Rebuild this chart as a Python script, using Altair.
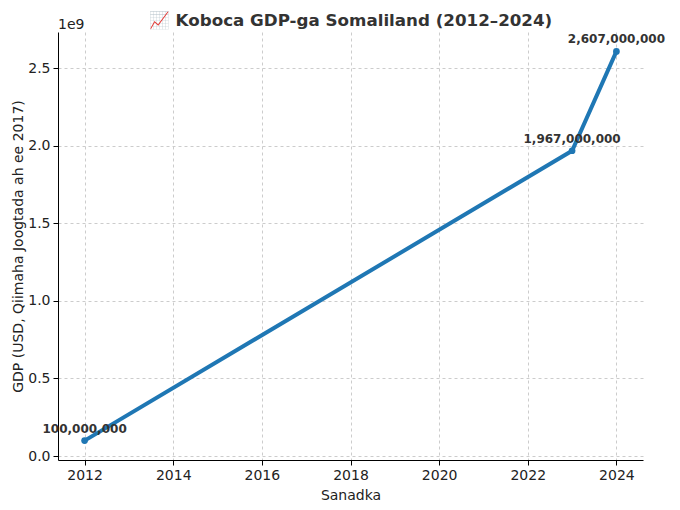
import altair as alt
import pandas as pd

years = [2012, 2023, 2024]
gdp = [100000000, 1967000000, 2607000000]
labels = ["100,000,000", "1,967,000,000", "2,607,000,000"]
x_ticks = [2012, 2014, 2016, 2018, 2020, 2022, 2024]
y_ticks = [0, 500000000, 1000000000, 1500000000, 2000000000, 2500000000]
title_text = "📈 Koboca GDP-ga Somaliland (2012–2024)"

df = pd.DataFrame({"year": years, "gdp": gdp, "label": labels})

FONT = "DejaVu Sans"
W, H = 585, 428

x = alt.X("year:Q",
          scale=alt.Scale(domain=[2011.4, 2024.6], nice=False, zero=False),
          axis=alt.Axis(values=x_ticks, format="d", title="Sanadka",
                        grid=True, gridDash=[3, 3], gridColor="#cccccc",
                        domainColor="black", tickColor="black", tickSize=5,
                        labelFontSize=14, titleFontSize=14, titleFontWeight="normal",
                        labelColor="#222222", titleColor="#222222", labelPadding=3,
                        titlePadding=6))
y = alt.Y("gdp:Q",
          scale=alt.Scale(domain=[-25000000, 2732000000], nice=False, zero=False),
          axis=alt.Axis(values=y_ticks, labelExpr="format(datum.value / 1e9, '.1f')",
                        title="GDP (USD, Qiimaha Joogtada ah ee 2017)",
                        grid=True, gridDash=[3, 3], gridColor="#cccccc",
                        domainColor="black", tickColor="black", tickSize=5,
                        labelFontSize=14, titleFontSize=14, titleFontWeight="normal",
                        labelColor="#222222", titleColor="#222222", labelPadding=3,
                        titlePadding=2))

base = alt.Chart(df)
line = base.mark_line(color="#1f77b4", strokeWidth=4).encode(x=x, y=y)
pts = base.mark_point(filled=True, color="#1f77b4", size=45, opacity=1).encode(x=x, y=y)
txt = base.mark_text(font=FONT, fontSize=12, fontWeight="bold", color="#333333",
                     dy=-12, baseline="middle", align="center").encode(x=x, y=y, text="label:N")
exp = alt.Chart(pd.DataFrame({"t": ["1e9"]})).mark_text(
    font=FONT, fontSize=14, color="#222222", align="left", baseline="alphabetic"
).encode(x=alt.value(0), y=alt.value(-3), text="t:N")
ttl = alt.Chart(pd.DataFrame({"t": [title_text]})).mark_text(
    font=FONT, fontSize=16.7, fontWeight="bold", color="#333333",
    align="center", baseline="alphabetic"
).encode(x=alt.value(W / 2), y=alt.value(-6), text="t:N")

chart = alt.layer(line, pts, txt, exp, ttl).properties(
    width=W, height=H,
    autosize=alt.AutoSizeParams(type="none"),
    padding={"left": 50, "top": 24, "right": 29, "bottom": 42},
).configure_view(stroke=None).configure_axis(labelFont=FONT, titleFont=FONT)

chart.save("out.html", embed_options={"renderer": "svg", "actions": False})
